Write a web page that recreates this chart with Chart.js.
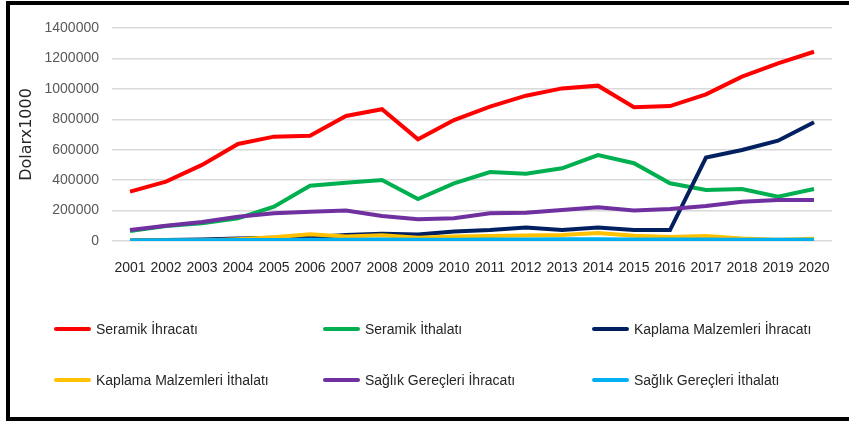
<!DOCTYPE html>
<html>
<head>
<meta charset="utf-8">
<script src="https://cdn.jsdelivr.net/npm/chart.js@4/dist/chart.umd.min.js"></script>
<style>
  html, body { margin: 0; padding: 0; background: #fff; overflow: hidden; }
  #wrap { position: relative; width: 849px; height: 421px; }
  #frame {
    position: absolute; left: 6px; top: 1px; width: 900px; height: 420px;
    border: 4px solid #000; box-sizing: border-box;
  }
  #chart { position: absolute; left: 0; top: 0; }
  .lg {
    position: absolute; display: flex; align-items: center;
    font-family: "Liberation Sans", Arial, sans-serif; font-size: 14px; color: #262626;
    white-space: nowrap;
  }
  .lg i { display: inline-block; width: 37px; height: 4px; margin-right: 5px; border-radius: 2px; }
</style>
</head>
<body>
<div id="wrap">
  <div id="frame"></div>
  <canvas id="chart" width="849" height="421"></canvas>
  <div id="legend"></div>
</div>
<script>
// ---- data ----
const years = ["2001","2002","2003","2004","2005","2006","2007","2008","2009","2010",
               "2011","2012","2013","2014","2015","2016","2017","2018","2019","2020"];

const seramikIhracat = [325000, 390000, 500000, 638000, 686000, 692000, 822000, 866000, 668000, 795000,
                        883000, 955000, 1003000, 1021000, 879000, 887000, 964000, 1080000, 1168000, 1244000];
const seramikIthalat = [66000, 99000, 116000, 149000, 225000, 363000, 383000, 401000, 276000, 379000,
                        453000, 442000, 478000, 565000, 511000, 379000, 335000, 342000, 291000, 342000];
const kaplamaIhracat = [5000, 7000, 10000, 17000, 22000, 24000, 39000, 48000, 42000, 62000,
                        72000, 88000, 72000, 88000, 72000, 72000, 548000, 598000, 659000, 780000];
const kaplamaIthalat = [3000, 3000, 4000, 12000, 25000, 45000, 30000, 38000, 22000, 30000,
                        33000, 36000, 40000, 52000, 35000, 27000, 33000, 16000, 8000, 15000];
const saglikIhracat  = [72000, 100000, 125000, 160000, 182000, 193000, 200000, 164000, 143000, 149000,
                        182000, 186000, 204000, 221000, 200000, 210000, 230000, 258000, 269000, 269000];
const saglikIthalat  = [4000, 4500, 5000, 6000, 7000, 8000, 9000, 9500, 8000, 9000,
                        10000, 10500, 11000, 11500, 10000, 9500, 10000, 9000, 8500, 9000];

const seriesNames = ["Seramik İhracatı", "Seramik İthalatı", "Kaplama Malzemleri İhracatı",
                     "Kaplama Malzemleri İthalatı", "Sağlık Gereçleri İhracatı", "Sağlık Gereçleri İthalatı"];
const seriesData = [seramikIhracat, seramikIthalat, kaplamaIhracat, kaplamaIthalat, saglikIhracat, saglikIthalat];
const seriesColors = ["#ff0000", "#00b050", "#002060", "#ffc000", "#7030a0", "#00b0f0"];

// ---- chart ----
const datasets = seriesNames.map((name, i) => ({
  label: name,
  data: seriesData[i],
  borderColor: seriesColors[i],
  backgroundColor: seriesColors[i],
  borderWidth: 4,
  pointRadius: 0,
  tension: 0,
  fill: false,
  order: seriesNames.length - i   // later series drawn on top, like Excel
}));

const ctx = document.getElementById("chart").getContext("2d");
const chart = new Chart(ctx, {
  type: "line",
  data: { labels: years, datasets },
  options: {
    responsive: false,
    animation: false,
    layout: { padding: { top: 28, right: 17, bottom: 140, left: 0 } },
    plugins: { legend: { display: false }, tooltip: { enabled: false } },
    scales: {
      x: {
        offset: true,
        grid: { display: false },
        border: { display: false },
        ticks: {
          color: "#262626", padding: 11, maxRotation: 0, autoSkip: false,
          font: { family: "Liberation Sans", size: 14 }
        },
        afterFit: s => { s.height = 40; }
      },
      y: {
        min: 0, max: 1400000,
        grid: { color: "#d9d9d9", lineWidth: 1.5, drawTicks: false },
        border: { display: false },
        ticks: {
          stepSize: 200000, color: "#595959", padding: 13,
          font: { family: "Liberation Sans", size: 14 },
          callback: v => String(v)
        },
        title: {
          display: true, text: "Dolarx1000", color: "#262626",
          font: { family: "DejaVu Sans", size: 16 },
          padding: { top: 17, bottom: 0 }
        },
        afterFit: s => { s.width = 112; }
      }
    }
  }
});

// ---- legend (3 columns x 2 rows, like the original) ----
const colX = [54, 323, 592];
const rowY = [329, 380];
const legendEl = document.getElementById("legend");
chart.data.datasets.forEach((ds, i) => {
  const d = document.createElement("div");
  d.className = "lg";
  d.style.left = colX[i % 3] + "px";
  d.style.top = (rowY[Math.floor(i / 3)] - 9) + "px";
  d.style.height = "18px";
  d.innerHTML = `<i style="background:${ds.borderColor}"></i><span>${ds.label}</span>`;
  legendEl.appendChild(d);
});
</script>
</body>
</html>
